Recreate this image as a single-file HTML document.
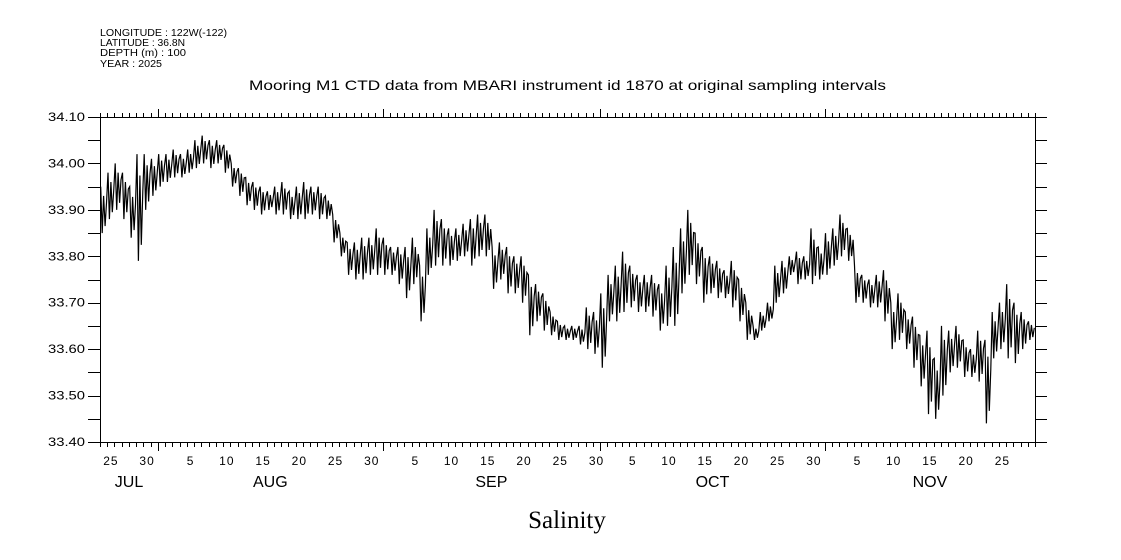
<!DOCTYPE html>
<html><head><meta charset="utf-8">
<style>
body{margin:0;background:#fff;}
svg{display:block;font-family:"Liberation Sans",sans-serif;}
</style></head>
<body>
<svg id="chart" width="1121" height="560" viewBox="0 0 1121 560">
<g font-size="10" fill="#000">
<text x="100" y="36" textLength="127" lengthAdjust="spacingAndGlyphs">LONGITUDE : 122W(-122)</text>
<text x="100" y="46" textLength="85" lengthAdjust="spacingAndGlyphs">LATITUDE : 36.8N</text>
<text x="100" y="56" textLength="86" lengthAdjust="spacingAndGlyphs">DEPTH (m) : 100</text>
<text x="100" y="67" textLength="62" lengthAdjust="spacingAndGlyphs">YEAR : 2025</text>
</g>
<text x="249" y="90" font-size="14" textLength="637" lengthAdjust="spacingAndGlyphs">Mooring M1 CTD data from MBARI instrument id 1870 at original sampling intervals</text>
<text x="567" y="528" font-size="25" text-anchor="middle" font-family="Liberation Serif, serif">Salinity</text>
<g id="axes"></g>
<g id="plot"></g>
</svg>
<script>
const lowVals=[33.85,33.88,33.90,33.88,33.84,33.79,33.90,33.93,
33.95,33.96,33.97,33.97,33.98,33.99,34.00,33.99,34.00,33.98,33.95,33.93,33.91,33.90,33.89,33.90,33.89,33.89,33.88,33.88,33.88,33.89,33.88,33.88,33.83,33.80,33.76,33.75,33.75,33.76,33.76,
33.76,33.76,33.74,33.71,33.74,33.66,33.76,33.78,33.78,33.78,33.79,33.80,33.78,33.80,33.80,33.73,33.75,33.72,33.72,33.70,33.63,33.66,33.64,33.63,33.62,33.62,33.62,33.61,33.60,33.59,
33.56,33.66,33.66,33.68,33.69,33.68,33.68,33.67,33.64,33.65,33.65,33.72,33.76,33.74,33.70,33.72,33.71,33.71,33.69,33.66,33.62,33.62,33.64,33.66,33.70,33.72,33.76,33.74,33.75,33.74,33.75,
33.76,33.78,33.80,33.79,33.70,33.70,33.69,33.69,33.66,33.60,33.62,33.60,33.56,33.52,33.46,33.45,33.50,33.55,33.56,33.54,33.54,33.53,33.44,33.58,33.60,33.58,33.57,33.60,33.62];
const highVals=[33.95,33.98,34.00,33.98,33.95,34.02,34.02,34.01,
34.02,34.02,34.03,34.02,34.03,34.05,34.06,34.05,34.05,34.04,34.00,33.99,33.97,33.96,33.95,33.94,33.95,33.96,33.94,33.95,33.96,33.95,33.95,33.93,33.89,33.85,33.83,33.83,33.84,33.84,33.86,
33.84,33.82,33.82,33.82,33.84,33.78,33.86,33.90,33.88,33.86,33.86,33.87,33.88,33.89,33.89,33.82,33.83,33.82,33.80,33.80,33.76,33.74,33.72,33.68,33.66,33.65,33.65,33.65,33.69,33.68,
33.72,33.76,33.78,33.81,33.78,33.76,33.76,33.76,33.74,33.78,33.82,33.86,33.90,33.85,33.82,33.80,33.79,33.77,33.79,33.75,33.70,33.65,33.68,33.70,33.78,33.79,33.80,33.81,33.80,33.86,33.82,
33.85,33.86,33.89,33.86,33.78,33.76,33.75,33.76,33.77,33.70,33.72,33.68,33.67,33.63,33.64,33.58,33.65,33.64,33.65,33.62,33.60,33.64,33.62,33.68,33.70,33.74,33.70,33.68,33.66];
const yTickLabels=["33.40","33.50","33.60","33.70","33.80","33.90","34.00","34.10"];
const dayLabels=[25,30,5,10,15,20,25,30,5,10,15,20,25,30,5,10,15,20,25,30,5,10,15,20,25];
const dayLabelIdx=[1,6,12,17,22,27,32,37,43,48,53,58,63,68,73,78,83,88,93,98,104,109,114,119,124];
const monthNames=["JUL","AUG","SEP","OCT","NOV"];
const monthStart=[0,8,39,69,100];
const monthEnd=[8,39,69,100,129];

const NS="http://www.w3.org/2000/svg";
const L=100,R=1035,T=117,B=442,NDAYS=129,YMIN=33.4,YMAX=34.1;
const xs=d=>L+d*(R-L)/NDAYS;
const ys=v=>B-(v-YMIN)/(YMAX-YMIN)*(B-T);
const axes=document.getElementById('axes'),plot=document.getElementById('plot');
function mk(tag,attrs,parent){const e=document.createElementNS(NS,tag);for(const k in attrs)e.setAttribute(k,attrs[k]);parent.appendChild(e);return e;}

const frame=mk('rect',{x:L+0.5,y:T+0.5,width:R-L,height:B-T,fill:'none',stroke:'#000','stroke-width':1},axes);



for(let i=0;i<=14;i++){
  const v=YMIN+i*0.05,y=Math.round(ys(v))+0.5;
  const tl=mk('line',{x1:L-12,x2:L,y1:y,y2:y,stroke:'#000'},axes);
  
  
  const tr=mk('line',{x1:R,x2:R+12,y1:y,y2:y,stroke:'#000'},axes);
  
  
}
yTickLabels.forEach((s,i)=>{
  const t=mk('text',{x:48,y:ys(parseFloat(s))+4,'font-size':12,textLength:37,lengthAdjust:'spacingAndGlyphs'},axes);
  t.textContent=s;
  
  
});
for(let d=0;d<=NDAYS;d++){
  const x=Math.round(xs(d))+0.5;
  const isM=monthStart.indexOf(d)>0;
  const tb=mk('line',{x1:x,x2:x,y1:B,y2:B+(isM?9:5),stroke:'#000'},axes);
  
  
  const tt=mk('line',{x1:x,x2:x,y1:T,y2:T-(isM?8:4),stroke:'#000'},axes);
  
  
}
dayLabels.forEach((s,i)=>{
  const t=mk('text',{x:xs(dayLabelIdx[i]+0.5),y:465,'font-size':12,'text-anchor':'middle','letter-spacing':1},axes);
  t.textContent=s;
  
  
});
monthNames.forEach((s,i)=>{
  const t=mk('text',{x:xs((monthStart[i]+monthEnd[i])/2),y:487,'font-size':16,'text-anchor':'middle'},axes);
  t.textContent=s;
  
  
});
let pts=[];
for(let d=0;d<lowVals.length;d++){
  const h=highVals[d],l=lowVals[d];
  pts.push([xs(d+0.1),ys(h)]);
  pts.push([xs(d+0.3),ys(l)]);
  pts.push([xs(d+0.5),ys(h-(h-l)*0.2)]);
  pts.push([xs(d+0.7),ys(l+(h-l)*0.15)]);
  pts.push([xs(d+0.9),ys(h-(h-l)*0.35)]);
}
const line=mk('polyline',{points:pts.map(p=>p[0].toFixed(1)+','+p[1].toFixed(1)).join(' '),fill:'none',stroke:'#000','stroke-width':1.2},plot);


</script>
</body></html>
